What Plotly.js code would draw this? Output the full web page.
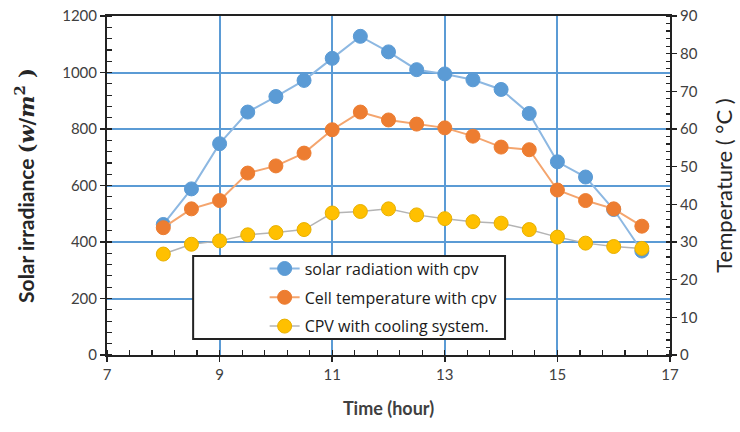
<!DOCTYPE html>
<html><head><meta charset="utf-8">
<script src="https://cdn.plot.ly/plotly-3.0.1.min.js"></script>
<style>html,body{margin:0;padding:0;background:#fff}#chart{width:740px;height:432px}</style>
</head><body><div id="chart"></div>
<script>
const hours = [8,8.5,9,9.5,10,10.5,11,11.5,12,12.5,13,13.5,14,14.5,15,15.5,16,16.5];
const solarRadiation = [462,588,748,860,915,972,1050,1128,1073,1010,995,974,940,855,684,630,515,368];
const cellTemperature = [33.8,38.8,41.0,48.3,50.2,53.6,59.8,64.5,62.4,61.3,60.3,58.1,55.2,54.5,43.8,41.0,38.8,34.2];
const cpvCooling = [26.8,29.4,30.3,31.9,32.5,33.3,37.7,38.1,38.8,37.2,36.2,35.4,35.0,33.3,31.3,29.7,28.8,28.3];
const names = ["solar radiation with cpv","Cell temperature with cpv","CPV with cooling system."];

const font = "Lato, 'Open Sans', sans-serif";
const traces = [
  {x:hours,y:solarRadiation,name:names[0],type:'scatter',mode:'lines+markers',yaxis:'y',legendgroup:'a',
   line:{color:'#8DB8E2',width:2},marker:{color:'#5B9BD5',size:14,line:{color:'#5B9BD5',width:1}}},
  {x:hours,y:cellTemperature,name:names[1],type:'scatter',mode:'lines+markers',yaxis:'y2',legendgroup:'b',
   line:{color:'#F4A56E',width:2},marker:{color:'#ED7D31',size:14,line:{color:'#ED7D31',width:1}}},
  {x:hours,y:cpvCooling,name:names[2],type:'scatter',mode:'lines+markers',yaxis:'y2',legendgroup:'c',
   line:{color:'#B4B4B4',width:1.5},marker:{color:'#FFC000',size:14,line:{color:'#E8B000',width:1}}}
];
const layout = {
  width:740,height:432,
  margin:{l:107,r:70,t:16,b:77},
  paper_bgcolor:'#fff',plot_bgcolor:'#fff',
  font:{family:font,color:'#404040',size:13},
  showlegend:true,
  xaxis:{range:[7,17],tick0:7,dtick:2,showgrid:true,gridcolor:'#5B9BD5',gridwidth:2,zeroline:false,
    showline:true,linecolor:'#222',linewidth:2,mirror:true,ticks:'outside',ticklen:5,tickcolor:'#222',tickwidth:1.5,
    minor:{tick0:7,dtick:0.4,ticks:'inside',ticklen:5,tickcolor:'#222',tickwidth:1.2,showgrid:false},
    tickfont:{size:15,color:'#404040'},
    title:{text:'<b>Time (hour)</b>',font:{size:18,color:'#404040'},standoff:20}},
  yaxis:{range:[0,1200],dtick:200,showgrid:true,gridcolor:'#5B9BD5',gridwidth:2,zeroline:false,
    showline:true,linecolor:'#222',linewidth:2,ticks:'outside',ticklen:5,tickcolor:'#222',tickwidth:1.5,
    minor:{dtick:40,ticks:'inside',ticklen:5,tickcolor:'#222',tickwidth:1.2,showgrid:false},
    tickfont:{size:15,color:'#404040'},
    title:{text:'<b>Solar irradiance <span style="font-family:DejaVu Serif">(<i>w</i>/<i>m</i><sup>2</sup> )</span></b>',font:{size:21,color:'#262626'},standoff:22}},
  yaxis2:{range:[0,90],dtick:10,overlaying:'y',side:'right',showgrid:false,zeroline:false,
    showline:true,linecolor:'#222',linewidth:2,ticks:'outside',ticklen:5,tickcolor:'#222',tickwidth:1.5,
    minor:{dtick:2,ticks:'inside',ticklen:4,tickcolor:'#222',tickwidth:1.2},
    tickfont:{size:15,color:'#404040'},
    title:{text:'Temperature ( °C )',font:{size:22,color:'#262626'},standoff:20}},
  legend:{x:0.28,y:0.305,xanchor:'left',yanchor:'top',bgcolor:'rgba(0,0,0,0)',borderwidth:0,
    tracegroupgap:5,traceorder:'grouped',font:{size:16,color:'#1a1a1a',family:"'Open Sans', sans-serif"}},
  shapes:[{type:'rect',xref:'paper',yref:'paper',x0:0.153,x1:0.707,y0:0.047,y1:0.292,
    line:{color:'#222',width:2},fillcolor:'#fff',layer:'above'}]
};
Plotly.newPlot('chart',traces,layout,{staticPlot:true,displayModeBar:false});
</script></body></html>
